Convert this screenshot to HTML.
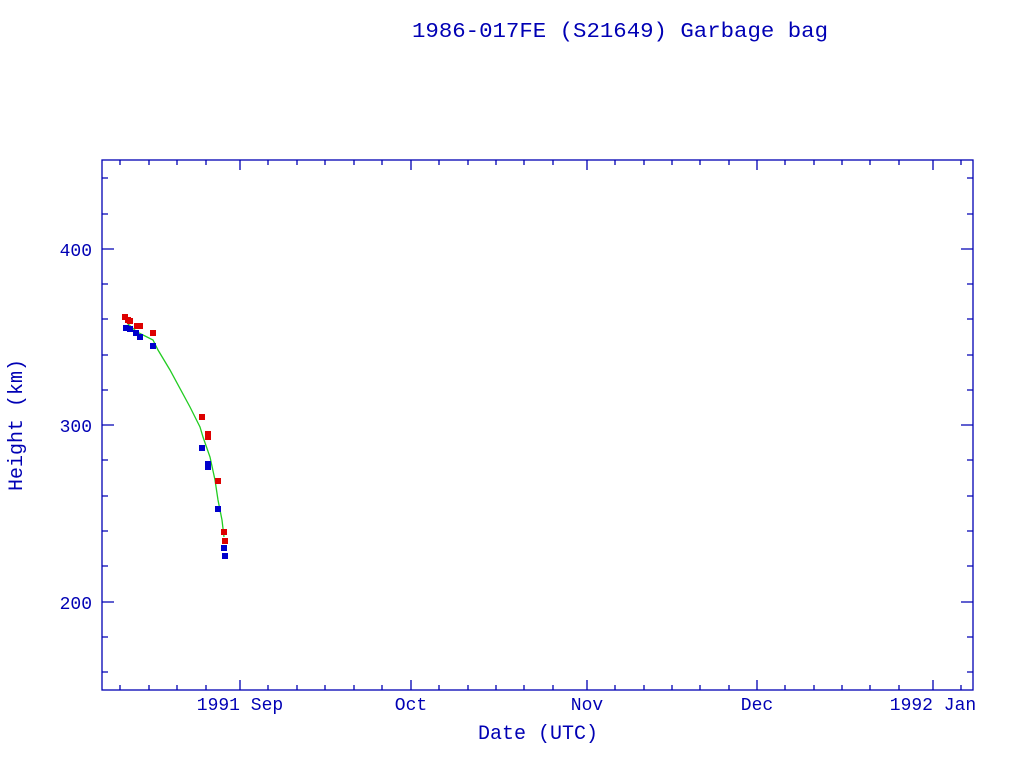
<!DOCTYPE html>
<html><head><style>body{margin:0;background:#fff}svg{display:block}</style></head>
<body>
<svg width="1024" height="768" xmlns="http://www.w3.org/2000/svg" font-family="Liberation Mono, monospace" fill="#0000b4">
<text x="620" y="37" font-size="21" text-anchor="middle" textLength="416" lengthAdjust="spacingAndGlyphs">1986-017FE (S21649) Garbage bag</text>
<g stroke="#0000b4" stroke-width="1.3" fill="none">
<rect x="102" y="160" width="871" height="530"/>
<path d="M102 249h12M102 425h12M102 602h12M973 249h-12M973 425h-12M973 602h-12
M102 178h6M102 214h6M102 284h6M102 319h6M102 355h6M102 390h6M102 460h6M102 496h6M102 531h6M102 566h6M102 637h6M102 672h6
M973 178h-6M973 214h-6M973 284h-6M973 319h-6M973 355h-6M973 390h-6M973 460h-6M973 496h-6M973 531h-6M973 566h-6M973 637h-6M973 672h-6
M240 690v-10M411 690v-10M587 690v-10M757 690v-10M933 690v-10
M240 160v10M411 160v10M587 160v10M757 160v10M933 160v10
M120 690v-5M149 690v-5M177 690v-5M206 690v-5M268 690v-5M297 690v-5M325 690v-5M354 690v-5M382 690v-5M439 690v-5M468 690v-5M496 690v-5M524 690v-5M553 690v-5M615 690v-5M644 690v-5M672 690v-5M700 690v-5M729 690v-5M785 690v-5M814 690v-5M842 690v-5M870 690v-5M899 690v-5M961 690v-5
M120 160v5M149 160v5M177 160v5M206 160v5M268 160v5M297 160v5M325 160v5M354 160v5M382 160v5M439 160v5M468 160v5M496 160v5M524 160v5M553 160v5M615 160v5M644 160v5M672 160v5M700 160v5M729 160v5M785 160v5M814 160v5M842 160v5M870 160v5M899 160v5M961 160v5"/>
</g>
<g font-size="18" text-anchor="end">
<text x="92" y="256">400</text><text x="92" y="432">300</text><text x="92" y="609">200</text>
</g>
<g font-size="18" text-anchor="middle">
<text x="240" y="710">1991 Sep</text><text x="411" y="710">Oct</text><text x="587" y="710">Nov</text><text x="757" y="710">Dec</text><text x="933" y="710">1992 Jan</text>
<text x="538" y="739" font-size="20">Date (UTC)</text>
<text transform="translate(22 425) rotate(-90)" font-size="20">Height (km)</text>
</g>
<polyline fill="none" stroke="#22cc22" stroke-width="1.3" points="127,323 137,332 153,340 158,350 170,370 190,407 200,427 203,437 210,457 215,480 218,500 222,520 224,537"/>
<g fill="#dd0000">
<rect x="122" y="314" width="6" height="6"/><rect x="125" y="317" width="6" height="6"/><rect x="127" y="318" width="6" height="6"/><rect x="134" y="323" width="6" height="6"/><rect x="137" y="323" width="6" height="6"/><rect x="150" y="330" width="6" height="6"/><rect x="199" y="414" width="6" height="6"/><rect x="205" y="431" width="6" height="6"/><rect x="205" y="434" width="6" height="6"/><rect x="215" y="478" width="6" height="6"/><rect x="221" y="529" width="6" height="6"/><rect x="222" y="538" width="6" height="6"/>
</g>
<g fill="#0000cc">
<rect x="123" y="325" width="6" height="6"/><rect x="127" y="326" width="6" height="6"/><rect x="133" y="330" width="6" height="6"/><rect x="137" y="334" width="6" height="6"/><rect x="150" y="343" width="6" height="6"/><rect x="199" y="445" width="6" height="6"/><rect x="205" y="461" width="6" height="6"/><rect x="205" y="464" width="6" height="6"/><rect x="215" y="506" width="6" height="6"/><rect x="221" y="545" width="6" height="6"/><rect x="222" y="553" width="6" height="6"/>
</g>
</svg>
</body></html>
